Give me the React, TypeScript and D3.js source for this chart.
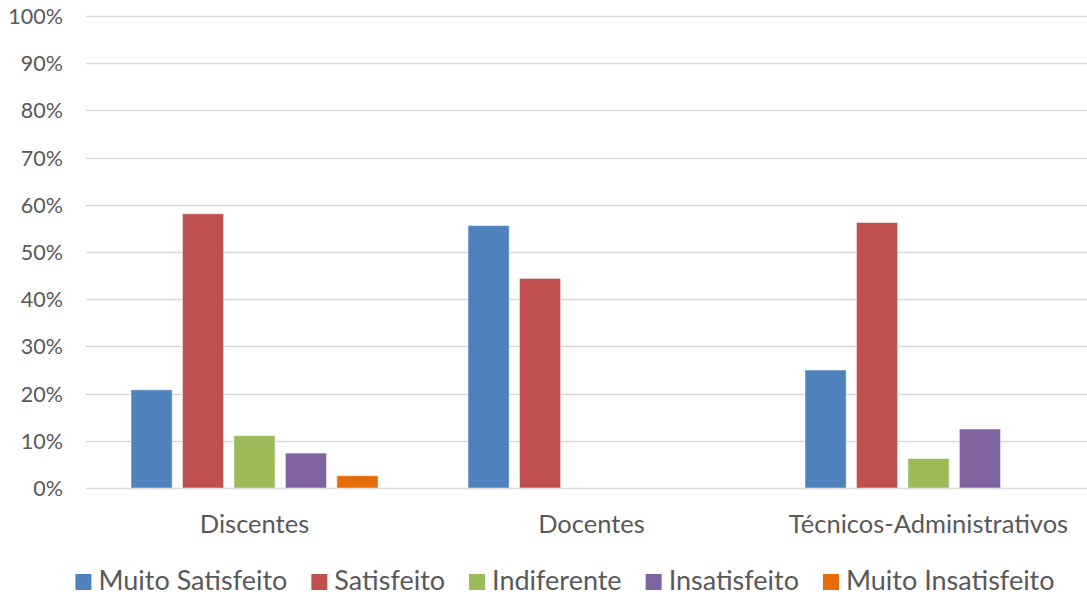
import React, { useEffect, useRef } from "react";
import * as d3 from "d3";

const categories = ["Discentes", "Docentes", "Técnicos-Administrativos"];
const seriesNames = ["Muito Satisfeito", "Satisfeito", "Indiferente", "Insatisfeito", "Muito Insatisfeito"];
const seriesColors = ["#4F81BD", "#C0504D", "#9BBB59", "#8064A2", "#E46C0A"];
// values per series, per category (fraction)
const muitoSatisfeito = [0.208, 0.556, 0.25];
const satisfeito = [0.581, 0.444, 0.5625];
const indiferente = [0.111, 0, 0.0625];
const insatisfeito = [0.074, 0, 0.125];
const muitoInsatisfeito = [0.026, 0, 0];
const seriesValues = [muitoSatisfeito, satisfeito, indiferente, insatisfeito, muitoInsatisfeito];
const yTicks = [0, 0.1, 0.2, 0.3, 0.4, 0.5, 0.6, 0.7, 0.8, 0.9, 1.0];

const W = 1087;
const H = 595;
const FONT = "Lato, 'Open Sans', sans-serif";
const TEXT = "#595959";

export default function App() {
  const ref = useRef<SVGSVGElement>(null);
  useEffect(() => {
    document.body.style.margin = "0";
    const svg = d3.select(ref.current);
    svg.selectAll("*").remove();

    const left = 86, right = 1097, top = 16, bottom = 488;
    const x0 = d3.scaleBand<string>().domain(categories).range([left, right]).padding(0);
    const bw = x0.bandwidth();
    const pad = 45;
    const x1 = d3.scaleBand<string>().domain(seriesNames).range([pad, bw - pad]).paddingInner(0.2).paddingOuter(0);
    const y = d3.scaleLinear().domain([0, 1]).range([bottom, top]);

    const g = svg.append("g");
    // gridlines
    g.selectAll("line.grid").data(yTicks).enter().append("line")
      .attr("x1", left).attr("x2", W)
      .attr("y1", d => Math.round(y(d)) + 0.5).attr("y2", d => Math.round(y(d)) + 0.5)
      .attr("stroke", "#d9d9d9").attr("stroke-width", 1.3);
    // y labels
    g.selectAll("text.ytick").data(yTicks).enter().append("text")
      .attr("x", 63).attr("y", d => y(d))
      .attr("text-anchor", "end").attr("dominant-baseline", "central")
      .attr("font-family", FONT).attr("font-size", 21.5).attr("fill", TEXT)
      .text(d => d3.format(".0%")(d));

    // bars
    seriesNames.forEach((s, si) => {
      g.selectAll(`rect.s${si}`).data(categories.map((c, ci) => ({ c, v: seriesValues[si][ci] })))
        .enter().append("rect")
        .attr("x", d => (x0(d.c) as number) + (x1(s) as number))
        .attr("width", x1.bandwidth())
        .attr("y", d => y(d.v))
        .attr("height", d => y(0) - y(d.v))
        .attr("fill", seriesColors[si])
        .attr("stroke", "#ffffff").attr("stroke-opacity", 0.5).attr("stroke-width", 1)
        .style("display", d => (d.v > 0 ? null : "none"));
    });

    // category labels
    g.selectAll("text.cat").data(categories).enter().append("text")
      .attr("x", d => (x0(d) as number) + bw / 2).attr("y", 533)
      .attr("text-anchor", "middle")
      .attr("font-family", FONT).attr("font-size", 25.5).attr("fill", TEXT)
      .text(d => d);

    // legend
    const lg = svg.append("g");
    const sq = 16, gapText = 7, gapItem = 24;
    let cx = 0;
    seriesNames.forEach((s, i) => {
      const it = lg.append("g");
      it.append("rect").attr("x", 0).attr("y", 574).attr("width", sq).attr("height", sq).attr("fill", seriesColors[i]);
      const t = it.append("text").attr("x", sq + gapText).attr("y", 590)
        .attr("font-family", FONT).attr("font-size", 27).attr("fill", TEXT).text(s);
      const tw = (t.node() as SVGTextElement).getComputedTextLength();
      it.attr("transform", `translate(${cx},0)`);
      cx += sq + gapText + tw + gapItem;
    });
    const total = cx - gapItem;
    const start = 565 - total / 2;
    lg.attr("transform", `translate(${start},0)`);
  }, []);
  return <svg ref={ref} width={W} height={H} style={{ display: "block", background: "#fff" }} />;
}
